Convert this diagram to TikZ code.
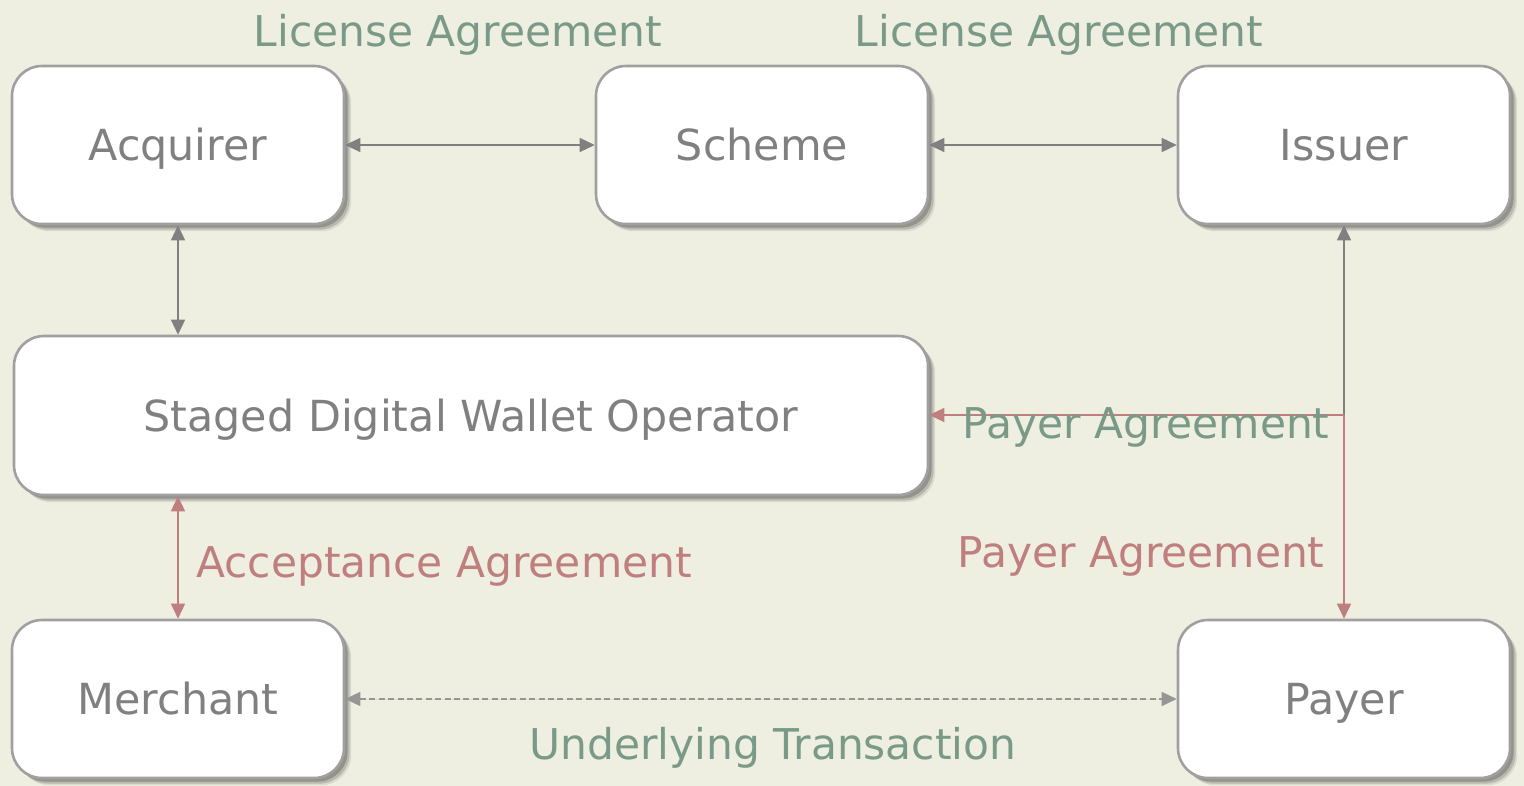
\documentclass[tikz,border=0pt]{standalone}
\usepackage{fontspec}
\setmainfont{DejaVu Sans}
\usetikzlibrary{arrows.meta,shadows}
\definecolor{bgc}{RGB}{238,238,225}
\definecolor{boxline}{RGB}{160,160,160}
\definecolor{txtgray}{RGB}{128,128,128}
\definecolor{dashgray}{RGB}{150,150,150}
\definecolor{lblgreen}{RGB}{122,154,136}
\definecolor{lblred}{RGB}{192,127,127}
\definecolor{shad}{RGB}{110,110,105}
\tikzset{
  entity/.style={draw=boxline, line width=1.3pt, fill=white, rounded corners=15pt,
    text=txtgray, font=\fontsize{21.4}{25}\selectfont, text height=15.6pt, text depth=0pt,
    inner sep=0pt,
    drop shadow={shadow xshift=3.6pt, shadow yshift=-3.6pt, fill=shad, opacity=0.15},
    drop shadow={shadow xshift=2.8pt, shadow yshift=-2.8pt, fill=shad, opacity=0.3},
    drop shadow={shadow xshift=1.8pt, shadow yshift=-1.8pt, fill=shad, opacity=0.5}},
  lbl/.style={font=\fontsize{21.2}{25}\selectfont, anchor=base, inner sep=0pt},
  conn/.style={line width=0.75pt, draw=txtgray, fill=txtgray, {Triangle[length=7.5pt,width=7pt]}-{Triangle[length=7.5pt,width=7pt]}},
  rconn/.style={line width=0.75pt, draw=lblred},
  tip/.style={-{Triangle[length=7.5pt,width=7pt]}},
}
\begin{document}
\begin{tikzpicture}[x=0.5pt,y=-0.5pt]
\fill[bgc] (0,0) rectangle (1524,786);
\useasboundingbox (0,0) rectangle (1524,786);
\node[entity, minimum width=166pt, minimum height=79pt] (acq) at (178,145) {Acquirer};
\node[entity, minimum width=166pt, minimum height=79pt] (sch) at (762,145) {Scheme};
\node[entity, minimum width=166pt, minimum height=79pt] (iss) at (1344,145) {Issuer};
\node[entity, minimum width=457pt, minimum height=79.5pt] (sdwo) at (471,415.5) {Staged Digital Wallet Operator};
\node[entity, minimum width=166pt, minimum height=79pt] (mer) at (178,699) {Merchant};
\node[entity, minimum width=166pt, minimum height=79pt] (pay) at (1344,699) {Payer};

\coordinate (j) at (1344,415);
\draw[conn] (acq.east) -- (sch.west);
\draw[conn] (sch.east) -- (iss.west);
\draw[conn] (acq.south) -- (acq.south |- sdwo.north);
\draw[conn, draw=lblred, fill=lblred] (acq.south |- sdwo.south) -- (acq.south |- mer.north);
\draw[conn, draw=dashgray, fill=txtgray, dash pattern=on 3pt off 1.7pt] (mer.east) -- (pay.west);
\draw[line width=0.75pt, draw=txtgray, fill=txtgray, tip] (j) -- (iss.south);
\draw[rconn, fill=lblred, tip] (j) -- (j -| sdwo.east);
\draw[rconn, fill=lblred, tip] (j) -- (pay.north);

\node[lbl, text=lblgreen] (l1) at (458,47) {License Agreement};
\node[lbl, text=lblgreen] (l2) at (1059,47) {License Agreement};
\node[lbl, text=lblgreen] (l3) at (1146,438) {Payer Agreement};
\node[lbl, text=lblred] (l4) at (1141,567) {Payer Agreement};
\node[lbl, text=lblred] (l5) at (444,577) {Acceptance Agreement};
\node[lbl, text=lblgreen] (l6) at (773,759) {Underlying Transaction};
\end{tikzpicture}
\end{document}
